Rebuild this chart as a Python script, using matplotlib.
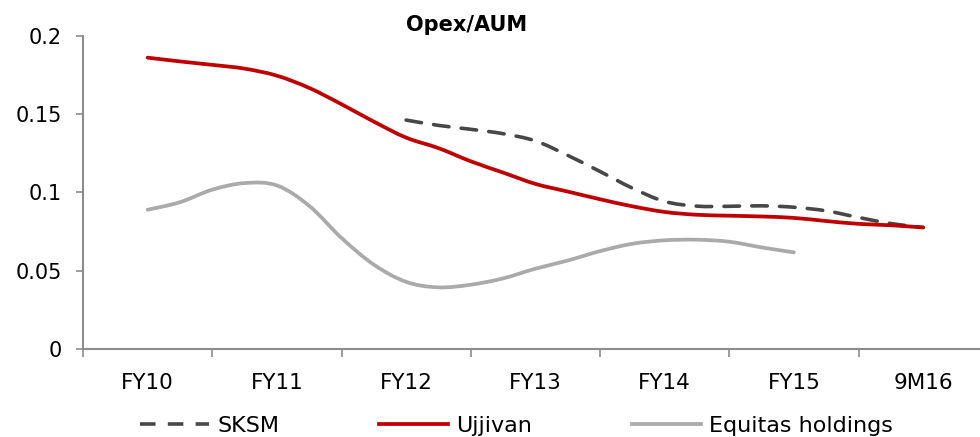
import matplotlib.pyplot as plt
from matplotlib.lines import Line2D
from matplotlib.patches import PathPatch
from matplotlib.path import Path
from matplotlib.ticker import FuncFormatter, FixedLocator

categories = ['FY10', 'FY11', 'FY12', 'FY13', 'FY14', 'FY15', '9M16']

# values at quarter-period steps (FY10 = 0, 9M16 = 6)
ujjivan = [0.186, 0.1836, 0.1814, 0.179, 0.1745, 0.1667, 0.1563, 0.1452, 0.1350,
           0.1283, 0.1199, 0.1127, 0.1055, 0.1006, 0.0957, 0.0912, 0.0876, 0.0858,
           0.0852, 0.0847, 0.0838, 0.0818, 0.0800, 0.0791, 0.0777]
sksm = [0.1462, 0.1428, 0.1403, 0.1375, 0.1329, 0.1237, 0.1134, 0.1028, 0.0943,
        0.0913, 0.0912, 0.0915, 0.0906, 0.0883, 0.0841, 0.0802, 0.0777]
equitas = [0.089, 0.0938, 0.1018, 0.106, 0.1045, 0.0915, 0.0710, 0.0540, 0.0430,
           0.0395, 0.0412, 0.0452, 0.0514, 0.0566, 0.0626, 0.0673, 0.0695, 0.0699,
           0.0686, 0.0650, 0.0618]

x_ujj = [k / 4 for k in range(len(ujjivan))]
x_sksm = [2 + k / 4 for k in range(len(sksm))]
x_eq = [k / 4 for k in range(len(equitas))]


def smooth_path(xs, ys):
    # Excel-like smoothed line: Catmull-Rom segments as cubic Bezier curves
    pts = list(zip(xs, ys))
    verts = [pts[0]]
    codes = [Path.MOVETO]
    n = len(pts)
    for i in range(n - 1):
        p0 = pts[max(i - 1, 0)]
        p1 = pts[i]
        p2 = pts[i + 1]
        p3 = pts[min(i + 2, n - 1)]
        c1 = (p1[0] + (p2[0] - p0[0]) / 6, p1[1] + (p2[1] - p0[1]) / 6)
        c2 = (p2[0] - (p3[0] - p1[0]) / 6, p2[1] - (p3[1] - p1[1]) / 6)
        verts += [c1, c2, p2]
        codes += [Path.CURVE4] * 3
    return Path(verts, codes)


fig = plt.figure(figsize=(9.8, 4.37), dpi=100)
ax = fig.add_axes([0.0847, 0.2007, 0.9153, 0.7176])

styles = [
    (x_sksm, sksm, dict(color='#474747', lw=2.6, linestyle=(0, (4.3, 3.4))), 'SKSM'),
    (x_ujj, ujjivan, dict(color='#C00000', lw=2.7), 'Ujjivan'),
    (x_eq, equitas, dict(color='#AAAAAA', lw=2.7), 'Equitas holdings'),
]
handles = []
for xs, ys, st, name in styles:
    ax.add_patch(PathPatch(smooth_path(xs, ys), fill=False, edgecolor=st['color'],
                           lw=st['lw'], linestyle=st.get('linestyle', '-'),
                           capstyle='round', joinstyle='round'))
    handles.append(Line2D([], [], color=st['color'], lw=st['lw'],
                          linestyle=st.get('linestyle', '-'), label=name))

ax.set_xlim(-0.5, 6.44)
ax.set_ylim(0, 0.2)
ax.set_yticks([0, 0.05, 0.1, 0.15, 0.2])
ax.yaxis.set_major_formatter(FuncFormatter(lambda v, p: '%g' % v))

ax.set_xticks(range(len(categories)))
ax.set_xticklabels(categories, fontsize=15.5)
ax.xaxis.set_minor_locator(FixedLocator([i - 0.5 for i in range(len(categories) + 1)]))
ax.tick_params(axis='x', which='major', length=0, pad=17)
ax.tick_params(axis='x', which='minor', length=6, width=1.2, color='#8c8c8c')
ax.tick_params(axis='y', length=5, width=1.2, color='#8c8c8c', labelsize=15, pad=10)

for s in ['top', 'right']:
    ax.spines[s].set_visible(False)
for s in ['left', 'bottom']:
    ax.spines[s].set_color('#8c8c8c')
    ax.spines[s].set_linewidth(1.5)

fig.text(0.476, 0.943, 'Opex/AUM', ha='center', va='center', fontsize=15, fontweight='bold')

fig.legend(handles=handles, loc='center', bbox_to_anchor=(0.527, 0.025), ncol=3,
           frameon=False, fontsize=16, handlelength=3.1, handletextpad=0.36,
           columnspacing=4.5, borderpad=0)

fig.savefig('out.png', dpi=100)
